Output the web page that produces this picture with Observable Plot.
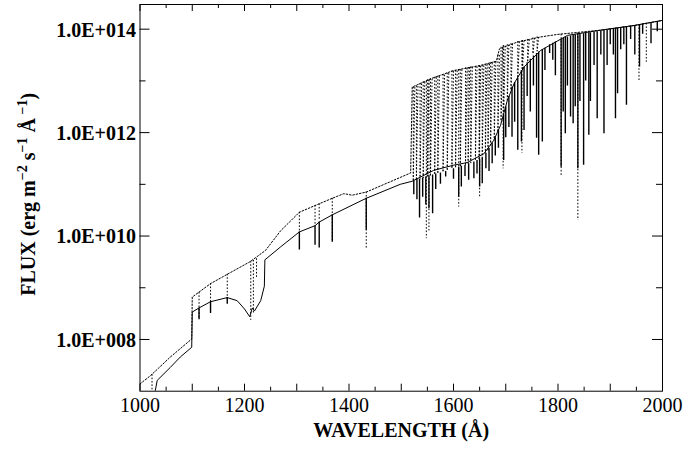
<!DOCTYPE html>
<html>
<head>
<meta charset="utf-8">
<script src="https://cdn.jsdelivr.net/npm/d3@7"></script>
<script src="https://cdn.jsdelivr.net/npm/@observablehq/plot@0.6"></script>
<style>
  html, body { margin: 0; padding: 0; background: white; }
  svg { display: block; }
</style>
</head>
<body>
<div id="chart"></div>
<script>
// ---- Solid spectrum (continuum path), wavelength in Å and log10 flux ----
const solidWave = [1029,1033,1058,1077,1099,1100,1113,1135,1167,1186,1200,1210,1215,1219,1231,1238,1239,1269,1305,1335,1343,1368,1433,1498,1521,1562,1600,1626,1658,1677,1690,1703,1716,1735,1767,1818,1881,1945,2000];
const solidLogFlux = [7.0,7.21,7.46,7.66,7.85,8.53,8.61,8.73,8.81,8.75,8.59,8.44,8.61,8.55,8.75,9.03,9.54,9.79,10.08,10.2,10.27,10.41,10.73,11.0,11.06,11.27,11.37,11.42,11.59,11.85,12.14,12.62,12.95,13.27,13.59,13.88,13.98,14.07,14.17];

// ---- Dotted spectrum (continuum path) ----
const dottedWave = [1000,1020,1058,1099,1100,1135,1167,1210,1240,1269,1305,1335,1368,1390,1406,1433,1518,1521,1556,1600,1652,1682,1688,1722,1767,1800,1881,1945,2000];
const dottedLogFlux = [7.14,7.30,7.66,8.01,8.82,9.08,9.26,9.50,9.72,10.1,10.46,10.59,10.73,10.82,10.79,10.85,11.22,12.88,13.04,13.2,13.3,13.38,13.62,13.75,13.85,13.9,13.98,14.07,14.17];

// ---- Solid absorption lines: wavelength, top and bottom (log10 flux) ----
const solidLineWave = [1113,1135,1167,1305,1335,1343,1368,1433,1524,1530,1535,1541,1547,1553,1560,1566,1575,1585,1600,1610,1615,1622,1629,1639,1645,1650,1655,1662,1668,1674,1680,1686,1696,1700,1706,1712,1717,1723,1730,1735,1741,1747,1753,1759,1763,1770,1775,1784,1790,1795,1806,1810,1814,1818,1824,1829,1833,1838,1842,1849,1853,1859,1862,1869,1875,1882,1888,1894,1900,1906,1910,1914,1920,1926,1931,1939,1947,1956,1962,1978,1990];
const solidLineTop = [8.61,8.73,8.81,10.08,10.2,10.27,10.41,10.73,11.07,11.1,11.1,11.12,11.14,11.16,11.18,11.2,11.22,11.25,11.3,11.33,11.35,11.37,11.4,11.43,11.46,11.48,11.5,11.6,11.7,11.8,11.9,12.05,12.35,12.5,12.7,12.88,12.97,13.05,13.2,13.27,13.35,13.42,13.48,13.53,13.56,13.6,13.63,13.7,13.73,13.75,13.8,13.82,13.84,13.85,13.87,13.88,13.89,13.9,13.9,13.91,13.92,13.93,13.93,13.94,13.95,13.97,13.98,13.99,14.0,14.01,14.02,14.02,14.03,14.04,14.05,14.06,14.07,14.09,14.1,14.13,14.15];
const solidLineBottom = [8.38,8.50,8.68,9.73,9.82,9.77,9.88,10.11,10.8,10.7,10.35,10.75,10.6,10.53,10.43,10.9,11.0,11.14,11.1,10.75,10.95,11.15,11.08,11.11,11.2,10.95,11.01,11.3,11.25,11.4,11.55,11.7,11.46,11.9,12.1,11.91,12.2,11.66,11.82,12.04,12.7,12.4,12.9,11.89,11.56,11.82,13.2,13.53,13.4,13.1,11.33,12.4,11.98,12.9,12.3,12.17,12.5,11.3,12.6,11.37,13.0,11.95,12.6,13.3,12.27,13.5,11.98,13.3,13.7,13.5,12.27,12.75,13.6,13.7,12.53,13.8,13.5,13.27,13.9,13.72,13.95];

// ---- Dotted absorption lines (isolated) ----
const dottedLineWave = [1023,1113,1135,1167,1212,1217,1223,1305,1335,1343,1368,1433,1548,1553,1610,1650,1695,1731,1806,1838,1955,1969];
const dottedLineTop = [7.32,8.91,9.08,9.26,9.51,9.53,9.56,10.46,10.59,10.62,10.73,10.85,12.99,13.02,13.21,13.29,13.68,13.78,13.9,13.92,14.09,14.11];
const dottedLineBottom = [7.0,8.41,8.5,8.75,8.37,8.5,9.18,10.08,10.2,10.3,9.91,9.76,9.95,10.1,10.56,10.73,11.3,11.6,11.17,10.3,13.0,13.36];

// ---- Dotted line blends 1520–1760 Å: V-shaped pairs (left edge, right top edge, top, bottom) ----
const blendWave = [1523,1529,1536,1542,1550,1556,1564,1570,1580,1588,1597,1604,1613,1623,1628,1633,1642,1649,1655,1661,1666,1671,1678,1685,1691,1696,1703,1710,1723,1732,1742,1752,1760];
const blendRightWave = [1526,1532,1539,1545,1553,1559,1567,1573,1583,1591,1600,1607,1616,1626,1631,1636,1645,1652,1658,1664,1669,1674,1681,1688,1694,1699,1706,1713,1726,1735,1745,1755,1763];
const blendTop = [12.88,12.9,12.95,12.98,13.02,13.04,13.07,13.09,13.12,13.15,13.19,13.2,13.22,13.25,13.26,13.27,13.28,13.29,13.3,13.32,13.33,13.35,13.37,13.5,13.65,13.68,13.7,13.72,13.76,13.78,13.8,13.83,13.85];
const blendBottom = [11.07,11.1,11.1,11.12,11.15,11.17,11.2,11.22,11.24,11.26,11.3,11.32,11.34,11.37,11.4,11.41,11.45,11.48,11.5,11.6,11.65,11.75,11.85,12.0,12.2,12.4,12.62,12.8,13.05,13.22,13.37,13.5,13.57];

// ---- Axes ticks and labels ----
const xTickLabels = [1000,1200,1400,1600,1800,2000];
const xMajorTicks = [1000,1100,1200,1300,1400,1500,1600,1700,1800,1900,2000];
const xMinorTicks = [1050,1150,1250,1350,1450,1550,1650,1750,1850,1950];
const yMajorTicks = [1e8,1e10,1e12,1e14];
const yTickLabels = ["1.0E+008","1.0E+010","1.0E+012","1.0E+014"];
const yMinorTicks = [1e9,1e11,1e13];

const W = 695, H = 449;
const mL = 139.5, mR = 33, mT = 4, mB = 58.3;
const pw = W - mL - mR, ph = H - mT - mB;

const solid = solidWave.map((w, i) => ({w, f: 10 ** solidLogFlux[i]}));
const dotted = dottedWave.map((w, i) => ({w, f: 10 ** dottedLogFlux[i]}));
const solidLines = solidLineWave.map((w, i) => ({w, top: 10 ** solidLineTop[i], bot: 10 ** solidLineBottom[i]}));
const dottedLines = dottedLineWave.map((w, i) => ({w, top: 10 ** dottedLineTop[i], bot: 10 ** dottedLineBottom[i]}));
const blends = blendWave.map((w, i) => ({w, wr: blendRightWave[i], top: 10 ** blendTop[i], bot: 10 ** blendBottom[i]}));

const serif = "'Liberation Serif', 'Times New Roman', serif";
const dash = "1.6,1.8";

const chart = Plot.plot({
  width: W, height: H,
  marginLeft: mL, marginRight: mR, marginTop: mT, marginBottom: mB,
  x: {domain: [1000, 2000], axis: null},
  y: {type: "log", domain: [1e7, 3e14], axis: null},
  style: {fontFamily: serif, background: "white", color: "black"},
  marks: [
    // dotted spectrum
    Plot.line(dotted, {x: "w", y: "f", stroke: "black", strokeWidth: 1, strokeDasharray: dash, clip: true}),
    Plot.ruleX(dottedLines, {x: "w", y1: "top", y2: "bot", stroke: "black", strokeWidth: 1, strokeDasharray: dash, clip: true}),
    Plot.ruleX(blends, {x: "w", y1: "top", y2: "bot", stroke: "black", strokeWidth: 1, strokeDasharray: dash, clip: true}),
    Plot.link(blends, {x1: "wr", y1: "top", x2: "w", y2: "bot", stroke: "black", strokeWidth: 1, strokeDasharray: dash, clip: true}),
    // solid spectrum
    Plot.line(solid, {x: "w", y: "f", stroke: "black", strokeWidth: 1, clip: true}),
    Plot.ruleX(solidLines, {x: "w", y1: "top", y2: "bot", stroke: "black", strokeWidth: 1.4, clip: true}),
    // frame
    Plot.frame({stroke: "black", strokeWidth: 1}),
    // x ticks (inward) bottom & top
    Plot.tickX(xMajorTicks, {x: d => d, insetTop: ph - 7, stroke: "black"}),
    Plot.tickX(xMinorTicks, {x: d => d, insetTop: ph - 4, stroke: "black"}),
    Plot.tickX(xMajorTicks, {x: d => d, insetBottom: ph - 7, stroke: "black"}),
    Plot.tickX(xMinorTicks, {x: d => d, insetBottom: ph - 4, stroke: "black"}),
    // y ticks (inward) left & right
    Plot.tickY(yMajorTicks, {y: d => d, insetRight: pw - 10, stroke: "black"}),
    Plot.tickY(yMinorTicks, {y: d => d, insetRight: pw - 6, stroke: "black"}),
    Plot.tickY(yMajorTicks, {y: d => d, insetLeft: pw - 10, stroke: "black"}),
    Plot.tickY(yMinorTicks, {y: d => d, insetLeft: pw - 6, stroke: "black"}),
    // tick labels
    Plot.text(xTickLabels, {x: d => d, frameAnchor: "bottom", dy: 21, text: d => String(d), fontSize: 20, fontFamily: serif, fill: "black"}),
    Plot.text(yMajorTicks, {y: d => d, frameAnchor: "left", dx: -4, dy: 1, textAnchor: "end", text: (d, i) => yTickLabels[i], fontSize: 20, fontWeight: "bold", fontFamily: serif, fill: "black"}),
    // x title
    Plot.text(["WAVELENGTH (Å)"], {frameAnchor: "bottom", dy: 45.5, text: d => d, fontSize: 20, fontWeight: "bold", fontFamily: serif, fill: "black"})
  ]
});

document.getElementById("chart").appendChild(chart);

// y title with superscripts
const svg = d3.select(chart);
const t = svg.append("text")
  .attr("transform", `translate(35, ${mT + ph / 2 - 3}) rotate(-90)`)
  .attr("text-anchor", "middle")
  .attr("font-family", serif)
  .attr("font-weight", "bold")
  .attr("font-size", 20)
  .attr("fill", "black");
const parts = [["FLUX (erg m", false], ["−2", true], [" s", false], ["−1", true], [" Å", false], [" −1", true], [")", false]];
parts.forEach(([s, sup], i) => {
  const prevSup = i > 0 && parts[i - 1][1];
  const ts = t.append("tspan").text(s);
  if (sup) ts.attr("font-size", 14).attr("dy", -8);
  else if (prevSup) ts.attr("dy", 8);
});
</script>
</body>
</html>
